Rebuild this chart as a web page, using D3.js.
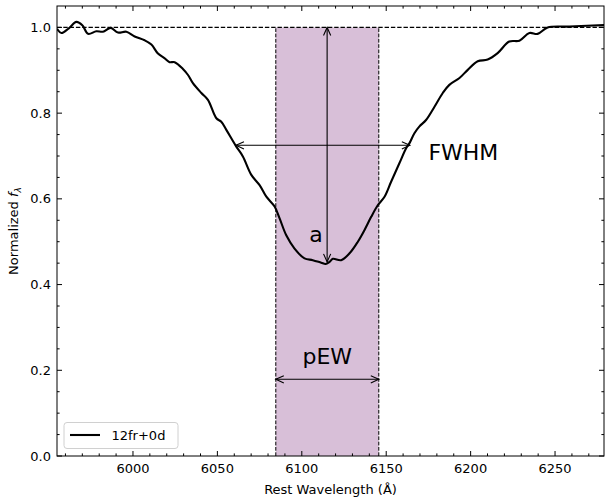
<!DOCTYPE html>
<html>
<head>
<meta charset="utf-8">
<script src="https://cdn.jsdelivr.net/npm/d3@7"></script>
<style>
  body { margin: 0; background: #fff; }
  svg { display: block; font-family: "DejaVu Sans", sans-serif; }
</style>
</head>
<body>
<div id="chart"></div>
<script>

// spectrum
let wavelength = [5955, 5957.6, 5962, 5966.5, 5970, 5973.4, 5978.3, 5982.2, 5986.8, 5991.1,
    5996.1, 6001, 6006.9, 6010.9, 6014.8, 6018.8, 6021.7, 6024.7, 6029.6, 6032.6,
    6035.5, 6040.5, 6044.4, 6049.4, 6052.3, 6055.3, 6061.2, 6065.1, 6070.1, 6075,
    6079, 6083.9, 6086.8, 6090.8, 6095.7, 6101.6, 6106.5, 6111.5, 6114.1, 6116.4,
    6118.4, 6123.3, 6128.3, 6133.2, 6137.1, 6141.1, 6145, 6149, 6152.9, 6157.8,
    6161.8, 6163.8, 6166.7, 6169.7, 6173.6, 6178.6, 6183.5, 6187.4, 6193.4, 6198.3,
    6204.2, 6210.1, 6216, 6222.9, 6228.9, 6234.8, 6239.7, 6245.6, 6258.5, 6282];
let flux = [0.997, 0.987, 0.998, 1.013, 1.005, 0.985, 0.991, 0.990, 0.999, 0.988,
    0.990, 0.979, 0.970, 0.960, 0.939, 0.928, 0.919, 0.919, 0.903, 0.889,
    0.870, 0.847, 0.831, 0.788, 0.780, 0.761, 0.722, 0.699, 0.656, 0.632,
    0.605, 0.582, 0.555, 0.515, 0.484, 0.461, 0.457, 0.451, 0.448, 0.453,
    0.460, 0.457, 0.473, 0.500, 0.527, 0.558, 0.585, 0.605, 0.640, 0.683,
    0.718, 0.730, 0.753, 0.769, 0.784, 0.815, 0.847, 0.866, 0.882, 0.901,
    0.921, 0.925, 0.940, 0.967, 0.969, 0.987, 0.985, 1.000, 1.002, 1.006];

let seriesLabel = "12fr+0d";
let pewRange = [6084.6, 6145.6];
let pewArrowY = 0.179;
let fwhmRange = [6061, 6164];
let fwhmY = 0.725;
let depthX = 6115;
let depthRange = [1.0, 0.453];

let xTicks = [6000, 6050, 6100, 6150, 6200, 6250];
let yTicks = [0, 0.2, 0.4, 0.6, 0.8, 1.0];

let width = 605, height = 504;
let margin = { left: 57, right: 1, top: 6, bottom: 48 };
let innerW = width - margin.left - margin.right;
let innerH = height - margin.top - margin.bottom;

let x = d3.scaleLinear().domain([5955, 6279]).range([0, innerW]);
let y = d3.scaleLinear().domain([0, 1.05]).range([innerH, 0]);

let svg = d3.select("#chart").append("svg")
    .attr("width", width)
    .attr("height", height);

svg.append("defs").append("clipPath")
    .attr("id", "plot-clip")
    .append("rect")
    .attr("width", innerW)
    .attr("height", innerH);

let g = svg.append("g").attr("transform", `translate(${margin.left},${margin.top})`);

// pEW shaded band
g.append("rect")
    .attr("x", x(pewRange[0]))
    .attr("y", y(1))
    .attr("width", x(pewRange[1]) - x(pewRange[0]))
    .attr("height", y(0) - y(1))
    .attr("fill", "#d8bfd8");

pewRange.forEach(v => {
    g.append("line")
        .attr("x1", x(v)).attr("x2", x(v))
        .attr("y1", y(0)).attr("y2", y(1))
        .attr("stroke", "#000")
        .attr("stroke-width", 1)
        .attr("stroke-dasharray", "3.7,1.6");
});

// continuum level
g.append("line")
    .attr("x1", 0).attr("x2", innerW)
    .attr("y1", y(1)).attr("y2", y(1))
    .attr("stroke", "#000")
    .attr("stroke-width", 1.2)
    .attr("stroke-dasharray", "4.4,1.9");

let points = wavelength.map((w, i) => [w, flux[i]]);
let line = d3.line()
    .x(d => x(d[0]))
    .y(d => y(d[1]))
    .curve(d3.curveCatmullRom.alpha(0.5));

g.append("path")
    .datum(points)
    .attr("clip-path", "url(#plot-clip)")
    .attr("fill", "none")
    .attr("stroke", "#000")
    .attr("stroke-width", 2.1)
    .attr("stroke-linejoin", "round")
    .attr("d", line);

// double headed arrows
function drawArrow(x1, y1, x2, y2) {
    let len = 8, half = 3.6;
    let ang = Math.atan2(y2 - y1, x2 - x1);
    g.append("line")
        .attr("x1", x1).attr("y1", y1)
        .attr("x2", x2).attr("y2", y2)
        .attr("stroke", "#000")
        .attr("stroke-width", 1.1);
    [[x1, y1, ang + Math.PI], [x2, y2, ang]].forEach(([px, py, a]) => {
        let bx = px - len * Math.cos(a), by = py - len * Math.sin(a);
        let nx = -Math.sin(a) * half, ny = Math.cos(a) * half;
        g.append("path")
            .attr("d", `M${bx + nx},${by + ny}L${px},${py}L${bx - nx},${by - ny}`)
            .attr("fill", "none")
            .attr("stroke", "#000")
            .attr("stroke-width", 1.1);
    });
}

drawArrow(x(fwhmRange[0]), y(fwhmY), x(fwhmRange[1]), y(fwhmY));
drawArrow(x(depthX), y(depthRange[0]), x(depthX), y(depthRange[1]));
drawArrow(x(pewRange[0]), y(pewArrowY), x(pewRange[1]), y(pewArrowY));

g.append("text")
    .attr("x", x(6175)).attr("y", y(fwhmY) + 15)
    .attr("font-size", "22px")
    .attr("fill", "#000")
    .text("FWHM");

g.append("text")
    .attr("x", x(6112.4)).attr("y", y(0.5))
    .attr("text-anchor", "end")
    .attr("font-size", "22px")
    .attr("fill", "#000")
    .text("a");

g.append("text")
    .attr("x", x((pewRange[0] + pewRange[1]) / 2)).attr("y", y(pewArrowY) - 15)
    .attr("text-anchor", "middle")
    .attr("font-size", "22px")
    .attr("fill", "#000")
    .text("pEW");

// axes: ticks inward on all four sides
let xMinor = d3.range(5960, 6280, 10).filter(v => !xTicks.includes(v));
let yMinor = d3.range(0, 1.05, 0.05).map(v => +v.toFixed(2)).filter(v => !yTicks.some(t => Math.abs(t - v) < 1e-9));

function tickLines(values, scale, orient, len) {
    values.forEach(v => {
        let p = scale(v);
        let seg;
        if (orient === "bottom") seg = [p, innerH, p, innerH - len];
        if (orient === "top") seg = [p, 0, p, len];
        if (orient === "left") seg = [0, p, len, p];
        if (orient === "right") seg = [innerW, p, innerW - len, p];
        g.append("line")
            .attr("x1", seg[0]).attr("y1", seg[1])
            .attr("x2", seg[2]).attr("y2", seg[3])
            .attr("stroke", "#000")
            .attr("stroke-width", 1);
    });
}

tickLines(xTicks, x, "bottom", 5);
tickLines(xTicks, x, "top", 5);
tickLines(xMinor, x, "bottom", 2.6);
tickLines(xMinor, x, "top", 2.6);
tickLines(yTicks, y, "left", 5);
tickLines(yTicks, y, "right", 5);
tickLines(yMinor, y, "left", 2.6);
tickLines(yMinor, y, "right", 2.6);

g.append("rect")
    .attr("width", innerW)
    .attr("height", innerH)
    .attr("fill", "none")
    .attr("stroke", "#000")
    .attr("stroke-width", 1);

g.selectAll(".xlab")
    .data(xTicks)
    .join("text")
    .attr("x", d => x(d))
    .attr("y", innerH + 16.5)
    .attr("text-anchor", "middle")
    .attr("font-size", "13px")
    .text(d => d);

g.selectAll(".ylab")
    .data(yTicks)
    .join("text")
    .attr("x", -6)
    .attr("y", d => y(d) + 4.5)
    .attr("text-anchor", "end")
    .attr("font-size", "13px")
    .text(d => d.toFixed(1));

svg.append("text")
    .attr("x", margin.left + innerW / 2)
    .attr("y", 494)
    .attr("text-anchor", "middle")
    .attr("font-size", "13px")
    .text("Rest Wavelength (Å)");

let ylab = svg.append("text")
    .attr("transform", `translate(18,${margin.top + innerH / 2}) rotate(-90)`)
    .attr("text-anchor", "middle")
    .attr("font-size", "13px");
ylab.append("tspan").text("Normalized ");
ylab.append("tspan").attr("font-style", "italic").text("f");
ylab.append("tspan").attr("font-size", "9px").attr("dy", 3).attr("font-style", "italic").text("λ");

// legend
let leg = svg.append("g").attr("transform", "translate(64,422.5)");
leg.append("rect")
    .attr("width", 114)
    .attr("height", 26)
    .attr("rx", 3)
    .attr("fill", "#fff")
    .attr("fill-opacity", 0.8)
    .attr("stroke", "#d0d0d0")
    .attr("stroke-width", 1);
leg.append("line")
    .attr("x1", 6).attr("x2", 36)
    .attr("y1", 12.5).attr("y2", 12.5)
    .attr("stroke", "#000")
    .attr("stroke-width", 2.1);
leg.append("text")
    .attr("x", 47.5).attr("y", 17.5)
    .attr("font-size", "13px")
    .text(seriesLabel);

</script>
</body>
</html>
